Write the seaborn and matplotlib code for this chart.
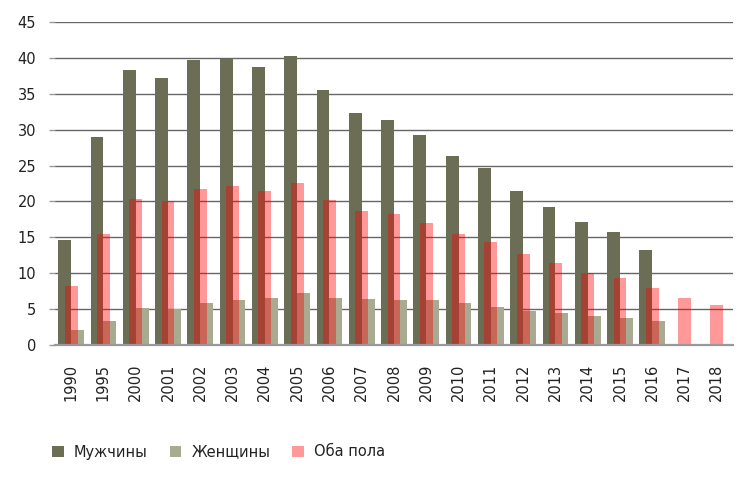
import pandas as pd
import numpy as np
import matplotlib
matplotlib.use("Agg")
import matplotlib.pyplot as plt
import seaborn as sns
from matplotlib.patches import Patch

# Years and values
YEARS = ['1990', '1995', '2000', '2001', '2002', '2003', '2004', '2005', '2006', '2007',
         '2008', '2009', '2010', '2011', '2012', '2013', '2014', '2015', '2016', '2017', '2018']
MEN = [14.6, 29.0, 38.3, 37.2, 39.7, 39.9, 38.7, 40.3, 35.5, 32.3,
       31.3, 29.2, 26.4, 24.6, 21.5, 19.2, 17.2, 15.7, 13.2, np.nan, np.nan]
WOMEN = [2.1, 3.4, 5.1, 5.0, 5.9, 6.2, 6.6, 7.2, 6.6, 6.4,
         6.2, 6.2, 5.8, 5.3, 4.8, 4.5, 4.0, 3.8, 3.3, np.nan, np.nan]
BOTH = [8.2, 15.4, 20.4, 20.0, 21.7, 22.2, 21.5, 22.6, 20.2, 18.6,
        18.2, 17.0, 15.4, 14.3, 12.7, 11.4, 10.1, 9.3, 8.0, 6.5, 5.6]

SERIES = ['Мужчины', 'Женщины', 'Оба пола']
COLORS = ['#6b6e55', '#a8ab91', '#ff9999']

sns.set_style("white")
plt.rcParams['font.family'] = ['DejaVu Sans']

df_sex = pd.DataFrame({'Year': YEARS * 2,
                       'Sex': [SERIES[0]] * len(YEARS) + [SERIES[1]] * len(YEARS),
                       'Value': MEN + WOMEN})
df_both = pd.DataFrame({'Year': YEARS, 'Value': BOTH})

fig = plt.figure(figsize=(7.5, 4.78), dpi=100)
ax = fig.add_axes([55 / 750, 1 - 345 / 478, 678 / 750, 323 / 478])

sns.barplot(data=df_sex, x='Year', y='Value', hue='Sex', order=YEARS,
            palette=COLORS[:2], width=0.8, saturation=1, errorbar=None,
            linewidth=0, ax=ax, zorder=2)
# "both sexes" bar is semi-transparent red, centred over the pair
sns.barplot(data=df_both, x='Year', y='Value', order=YEARS,
            color='#ff0000', alpha=0.4, width=0.4, saturation=1, errorbar=None,
            linewidth=0, ax=ax, zorder=3)

if ax.get_legend() is not None:
    ax.get_legend().remove()

ax.set_ylim(0, 45)
ax.set_yticks(range(0, 46, 5))
ax.set_xlim(-0.5, len(YEARS) - 0.5)
ax.yaxis.grid(True, color='#666666', linewidth=1.0)
ax.set_axisbelow(True)
ax.set_xlabel('')
ax.set_ylabel('')

for side in ['top', 'right', 'left']:
    ax.spines[side].set_visible(False)
ax.spines['bottom'].set_color('#999999')
ax.spines['bottom'].set_linewidth(1.6)
ax.spines['bottom'].set_zorder(4)

ax.tick_params(axis='y', left=True, length=4.5, width=1, color='#999999',
               labelsize=10.5, labelcolor='#222222', pad=9)
ax.tick_params(axis='x', bottom=False, labelsize=10.5, labelcolor='#222222',
               labelrotation=90, pad=10)

handles = [Patch(facecolor=c, edgecolor='none') for c in COLORS]
fig.legend(handles, SERIES, loc='center left', bbox_to_anchor=(52 / 750, 1 - 452 / 478),
           ncol=3, frameon=False, fontsize=10.5, handlelength=0.8, handleheight=0.8,
           handletextpad=0.7, columnspacing=1.5, borderpad=0, borderaxespad=0,
           labelcolor='#222222')

fig.savefig('out.png', dpi=100)
